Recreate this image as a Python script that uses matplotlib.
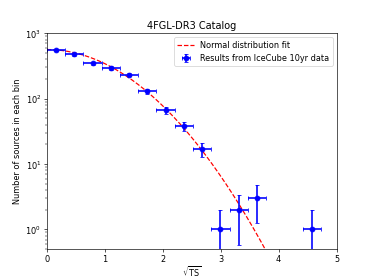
import matplotlib
matplotlib.use("Agg")
import matplotlib.pyplot as plt
import numpy as np

# bin centres in sqrt(TS) and counts per bin
sqrt_ts = [0.16, 0.475, 0.79, 1.105, 1.42, 1.735, 2.05, 2.365, 2.68, 2.995, 3.31, 3.625, 4.57]
counts = [550, 477, 344, 295, 233, 129, 66, 38, 17, 1, 2, 3, 1]
bin_half = 0.1575

# normal distribution fit parameters
amp = 562.0
mu = 0.0
sigma = 1.005

x = np.array(sqrt_ts)
y = np.array(counts, dtype=float)
yerr = np.sqrt(y)

xf = np.linspace(0, 5, 500)
yf = amp * np.exp(-(xf - mu) ** 2 / (2 * sigma ** 2))

plt.figure(figsize=(6.4, 4.8), dpi=374 / 6.4)
plt.plot(xf, yf, 'r--', lw=1.5, label='Normal distribution fit')
plt.errorbar(x, y, xerr=bin_half, yerr=yerr, fmt='o', color='b', elinewidth=2,
             capsize=2, label='Results from IceCube 10yr data')
plt.yscale('log')
plt.xlim(0, 5)
plt.ylim(0.5, 1000)
plt.xlabel(r'$\sqrt{\mathrm{TS}}$', labelpad=0)
plt.ylabel('Number of sources in each bin')
plt.title('4FGL-DR3 Catalog')
plt.legend(loc='upper right')
plt.savefig('out.png', dpi=374 / 6.4)
